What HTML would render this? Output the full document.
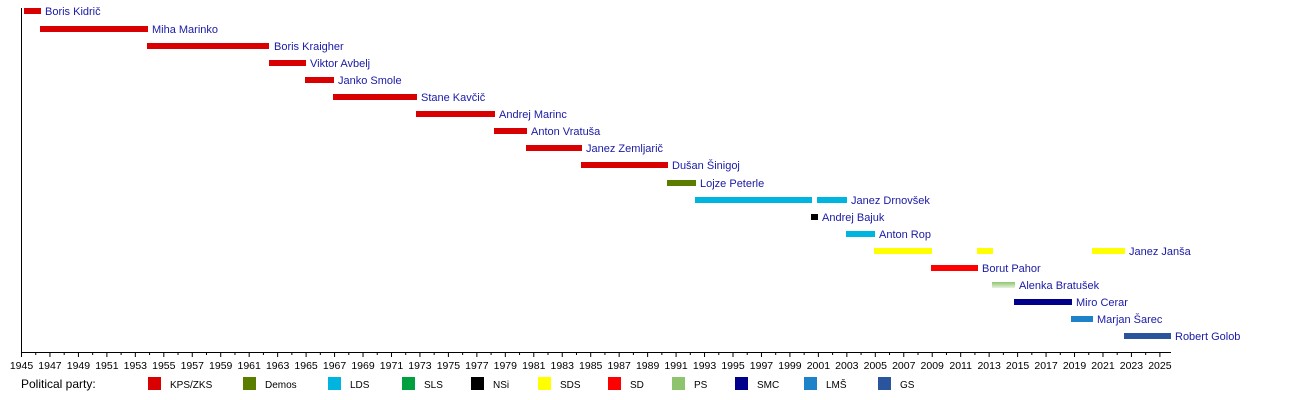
<!DOCTYPE html>
<html><head><meta charset="utf-8"><style>
html,body{margin:0;padding:0;background:#fff;}
svg{display:block;font-family:"Liberation Sans",sans-serif;}
.l{font-size:11px;fill:#1a1aa6;}
.t{font-size:10.5px;fill:#000;text-anchor:middle;}
.g{font-size:10px;fill:#000;}
</style></head><body>
<svg width="1300" height="400" xmlns="http://www.w3.org/2000/svg">
<defs><linearGradient id="ps" x1="0" y1="0" x2="0" y2="1"><stop offset="0" stop-color="#8ec46e"/><stop offset="1" stop-color="#e6f2dd"/></linearGradient></defs>
<line x1="21.5" y1="8" x2="21.5" y2="352" stroke="#000"/>
<line x1="21" y1="352.5" x2="1171" y2="352.5" stroke="#000"/>
<g id="ticks" stroke="#000"></g>
<g id="tl"></g>
<g fill="#d80000">
<rect x="24" y="8" width="17" height="6"/>
<rect x="40" y="26" width="108" height="6"/>
<rect x="147" y="43" width="122" height="6"/>
<rect x="269" y="60" width="37" height="6"/>
<rect x="305" y="77" width="29" height="6"/>
<rect x="333" y="94" width="84" height="6"/>
<rect x="416" y="111" width="79" height="6"/>
<rect x="494" y="128" width="33" height="6"/>
<rect x="526" y="145" width="56" height="6"/>
<rect x="581" y="162" width="87" height="6"/>
</g>
<rect x="667" y="180" width="29" height="6" fill="#5a7d00"/>
<rect x="695" y="197" width="117" height="6" fill="#00b4e0"/>
<rect x="817" y="197" width="30" height="6" fill="#00b4e0"/>
<rect x="811" y="214" width="7" height="6" fill="#000"/>
<rect x="846" y="231" width="29" height="6" fill="#00b4e0"/>
<g fill="#ffff00">
<rect x="874" y="248" width="58" height="6"/>
<rect x="977" y="248" width="16" height="6"/>
<rect x="1092" y="248" width="33" height="6"/>
</g>
<rect x="931" y="265" width="47" height="6" fill="#ff0000"/>
<rect x="992" y="282" width="23" height="6" fill="url(#ps)"/>
<rect x="1014" y="299" width="58" height="6" fill="#00008b"/>
<rect x="1071" y="316" width="22" height="6" fill="#1e82c8"/>
<rect x="1124" y="333" width="47" height="6" fill="#2a559c"/>
<text class="l" x="45" y="15">Boris Kidrič</text>
<text class="l" x="152" y="33">Miha Marinko</text>
<text class="l" x="274" y="50">Boris Kraigher</text>
<text class="l" x="310" y="67">Viktor Avbelj</text>
<text class="l" x="338" y="84">Janko Smole</text>
<text class="l" x="421" y="101">Stane Kavčič</text>
<text class="l" x="499" y="118">Andrej Marinc</text>
<text class="l" x="531" y="135">Anton Vratuša</text>
<text class="l" x="586" y="152">Janez Zemljarič</text>
<text class="l" x="672" y="169">Dušan Šinigoj</text>
<text class="l" x="700" y="187">Lojze Peterle</text>
<text class="l" x="851" y="204">Janez Drnovšek</text>
<text class="l" x="822" y="221">Andrej Bajuk</text>
<text class="l" x="879" y="238">Anton Rop</text>
<text class="l" x="1129" y="255">Janez Janša</text>
<text class="l" x="982" y="272">Borut Pahor</text>
<text class="l" x="1019" y="289">Alenka Bratušek</text>
<text class="l" x="1076" y="306">Miro Cerar</text>
<text class="l" x="1097" y="323">Marjan Šarec</text>
<text class="l" x="1175" y="340">Robert Golob</text>
<text x="21" y="388" style="font-size:12px" fill="#000">Political party:</text>
<g class="g">
<rect x="148" y="377" width="13" height="13" fill="#d80000"/><text x="170" y="388">KPS/ZKS</text>
<rect x="243" y="377" width="13" height="13" fill="#5a7d00"/><text x="265" y="388">Demos</text>
<rect x="328" y="377" width="13" height="13" fill="#00b4e0"/><text x="350" y="388">LDS</text>
<rect x="402" y="377" width="13" height="13" fill="#00a040"/><text x="424" y="388">SLS</text>
<rect x="471" y="377" width="13" height="13" fill="#000"/><text x="493" y="388">NSi</text>
<rect x="538" y="377" width="13" height="13" fill="#ffff00"/><text x="560" y="388">SDS</text>
<rect x="608" y="377" width="13" height="13" fill="#ff0000"/><text x="630" y="388">SD</text>
<rect x="672" y="377" width="13" height="13" fill="#8ec46e"/><text x="694" y="388">PS</text>
<rect x="735" y="377" width="13" height="13" fill="#00008b"/><text x="757" y="388">SMC</text>
<rect x="804" y="377" width="13" height="13" fill="#1e82c8"/><text x="826" y="388">LMŠ</text>
<rect x="878" y="377" width="13" height="13" fill="#2a559c"/><text x="900" y="388">GS</text>
</g>
</svg>
<script>
var s=14.23,t=document.getElementById('ticks'),l=document.getElementById('tl'),ns='http://www.w3.org/2000/svg';
for(var y=1945;y<=2025;y++){var x=21.5+(y-1945)*s;var ln=document.createElementNS(ns,'line');ln.setAttribute('x1',x);ln.setAttribute('x2',x);ln.setAttribute('y1',352);ln.setAttribute('y2',(y%2)?357:355);t.appendChild(ln);
if(y%2){var tx=document.createElementNS(ns,'text');tx.setAttribute('x',x);tx.setAttribute('y',369);tx.setAttribute('class','t');tx.textContent=y;l.appendChild(tx);}}
</script>
</body></html>
